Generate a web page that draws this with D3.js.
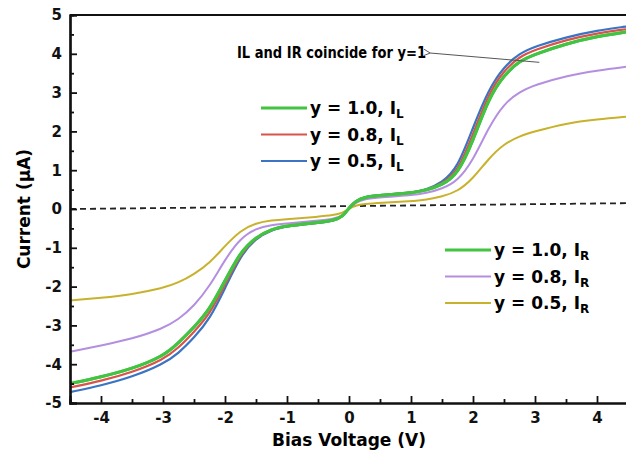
<!DOCTYPE html>
<html>
<head>
<meta charset="utf-8">
<script src="https://cdn.jsdelivr.net/npm/d3@7"></script>
<style>
  body { margin: 0; background: #fff; }
  text { font-family: "DejaVu Sans", sans-serif; font-weight: bold; }
</style>
</head>
<body>
<div id="chart-area"></div>
<script>
// bias voltage grid (V)
var voltage = [-4.5, -4, -3.5, -3, -2.75, -2.5, -2.25, -2, -1.75, -1.5, -1.25, -1, -0.5, -0.25, -0.1, 0,
               0.1, 0.25, 0.5, 1, 1.25, 1.5, 1.75, 2, 2.25, 2.5, 2.75, 3, 3.5, 4, 4.5];

// current (uA)
var y10_IL = [-4.5, -4.33, -4.12, -3.8, -3.45, -3.05, -2.6, -1.85, -1.1, -0.72, -0.52, -0.43, -0.35, -0.3, -0.2, 0.03,
              0.2, 0.31, 0.35, 0.41, 0.48, 0.62, 0.88, 1.75, 2.85, 3.45, 3.82, 3.99, 4.26, 4.45, 4.57];
var y08_IL = [-4.6, -4.43, -4.21, -3.89, -3.58, -3.17, -2.72, -1.95, -1.15, -0.73, -0.53, -0.43, -0.35, -0.3, -0.2, 0.03,
              0.2, 0.31, 0.35, 0.41, 0.49, 0.65, 0.95, 1.92, 2.98, 3.57, 3.93, 4.1, 4.36, 4.53, 4.64];
var y05_IL = [-4.72, -4.55, -4.33, -4.0, -3.72, -3.32, -2.85, -2.05, -1.2, -0.75, -0.54, -0.44, -0.36, -0.31, -0.2, 0.03,
              0.2, 0.32, 0.36, 0.42, 0.5, 0.68, 1.05, 2.1, 3.08, 3.67, 4.01, 4.19, 4.43, 4.6, 4.71];
var y10_IR = y10_IL.slice(); // IL and IR coincide for y=1
var y08_IR = [-3.68, -3.52, -3.35, -3.08, -2.85, -2.5, -2.0, -1.3, -0.75, -0.5, -0.41, -0.37, -0.3, -0.26, -0.17, 0.02,
              0.16, 0.26, 0.3, 0.35, 0.41, 0.52, 0.72, 1.25, 2.1, 2.72, 3.02, 3.2, 3.43, 3.57, 3.67];
var y05_IR = [-2.36, -2.29, -2.2, -2.04, -1.9, -1.68, -1.4, -0.95, -0.55, -0.36, -0.29, -0.26, -0.2, -0.16, -0.1, 0.01,
              0.09, 0.13, 0.16, 0.2, 0.24, 0.32, 0.45, 0.78, 1.3, 1.68, 1.88, 2.0, 2.21, 2.31, 2.38];

// dashed reference line
var dashV = [-4.5, 4.5];
var dashI = [0, 0.15];

var xTicks = [-4, -3, -2, -1, 0, 1, 2, 3, 4];
var yTicks = [-5, -4, -3, -2, -1, 0, 1, 2, 3, 4, 5];

var legendL = ["y = 1.0, I", "y = 0.8, I", "y = 0.5, I"];
var legendR = ["y = 1.0, I", "y = 0.8, I", "y = 0.5, I"];

var series = [
    { name: "y05_IR", values: y05_IR, color: "#c8b22c", w: 2 },
    { name: "y08_IR", values: y08_IR, color: "#b48fe0", w: 2 },
    { name: "y05_IL", values: y05_IL, color: "#3a74c2", w: 2.2 },
    { name: "y08_IL", values: y08_IL, color: "#d9534c", w: 2.2 },
    { name: "y10_IL", values: y10_IL, color: "#42c442", w: 3 },
    { name: "y10_IR", values: y10_IR, color: "#42c442", w: 3 }
];

var W = 626, H = 455;
var margin = { left: 70, right: -2, top: 15, bottom: 52 };

var svg = d3.select("#chart-area")
    .append("svg")
        .attr("width", W)
        .attr("height", H);

var x = d3.scaleLinear().domain([-4.5, 4.5]).range([margin.left, W - margin.right]);
var y = d3.scaleLinear().domain([-5, 5]).range([H - margin.bottom, margin.top]);

var line = d3.line()
    .x(d => x(d[0]))
    .y(d => y(d[1]))
    .curve(d3.curveBasis);

// dashed line
svg.append("path")
    .attr("d", line(dashV.map((v, i) => [v, dashI[i]])))
    .attr("fill", "none")
    .attr("stroke", "#222")
    .attr("stroke-width", 1.8)
    .attr("stroke-dasharray", "6,4");

// curves
svg.selectAll("path.curve")
    .data(series)
    .join("path")
        .attr("class", "curve")
        .attr("fill", "none")
        .attr("stroke", d => d.color)
        .attr("stroke-width", d => d.w)
        .attr("d", d => line(voltage.map((v, i) => [v, d.values[i]])));

// axes
svg.append("g")
    .attr("transform", "translate(0," + y(-5) + ")")
    .call(d3.axisBottom(x).tickValues(xTicks).tickSize(-7).tickPadding(9).tickFormat(d => String(d)));
svg.append("g")
    .attr("transform", "translate(0," + y(-5) + ")")
    .call(d3.axisBottom(x).tickValues(d3.range(-4.5, 4.6, 1)).tickSize(-4).tickFormat(""));

svg.append("g")
    .attr("transform", "translate(" + x(-4.5) + ",0)")
    .call(d3.axisLeft(y).tickValues(yTicks).tickSize(-7).tickPadding(8).tickFormat(d => String(d)));
svg.append("g")
    .attr("transform", "translate(" + x(-4.5) + ",0)")
    .call(d3.axisLeft(y).tickValues(d3.range(-4.5, 4.6, 1)).tickSize(-4).tickFormat(""));

svg.selectAll(".domain").attr("stroke", "#111").attr("stroke-width", 2.2);
svg.selectAll(".tick line").attr("stroke", "#111").attr("stroke-width", 1.8);
svg.selectAll(".tick text").style("font-size", "15px").attr("fill", "#111");

// top frame
svg.append("line")
    .attr("x1", x(-4.5)).attr("x2", W)
    .attr("y1", y(5)).attr("y2", y(5))
    .attr("stroke", "#111").attr("stroke-width", 2.2);

// axis titles
svg.append("text")
    .attr("x", x(0)).attr("y", 446)
    .attr("text-anchor", "middle")
    .style("font-size", "17px")
    .text("Bias Voltage (V)");

svg.append("text")
    .attr("transform", "translate(30," + y(0) + ") rotate(-90)")
    .attr("text-anchor", "middle")
    .style("font-size", "17px")
    .text("Current (\u03bcA)");

// legends
function legend(labels, sub, colors, x0, y0) {
    var g = svg.append("g").attr("transform", "translate(" + x0 + "," + y0 + ")");
    labels.forEach(function(lab, i) {
        var row = g.append("g").attr("transform", "translate(0," + i * 26.5 + ")");
        row.append("line")
            .attr("x1", 0).attr("x2", 46)
            .attr("stroke", colors[i]).attr("stroke-width", i == 0 ? 3 : 2);
        var t = row.append("text")
            .attr("x", 49).attr("y", 6)
            .style("font-size", "17px")
            .text(lab);
        t.append("tspan")
            .attr("dy", 4)
            .style("font-size", "12px")
            .text(sub);
    });
}
legend(legendL, "L", ["#42c442", "#d9534c", "#3a74c2"], 261, 108);
legend(legendR, "R", ["#42c442", "#b48fe0", "#c8b22c"], 445, 250);

// annotation with arrow
svg.append("defs").append("marker")
    .attr("id", "head")
    .attr("viewBox", "0 0 10 10")
    .attr("refX", 1).attr("refY", 5)
    .attr("markerWidth", 8).attr("markerHeight", 8)
    .attr("orient", "auto-start-reverse")
    .append("path")
        .attr("d", "M9,1 L1,5 L9,9")
        .attr("fill", "none")
        .attr("stroke", "#555")
        .attr("stroke-width", 1.2);

svg.append("line")
    .attr("x1", x(1.31)).attr("y1", y(4.02))
    .attr("x2", x(3.07)).attr("y2", y(3.78))
    .attr("stroke", "#555")
    .attr("stroke-width", 1)
    .attr("marker-start", "url(#head)");

svg.append("text")
    .attr("x", 237).attr("y", y(4.02) + 5)
    .attr("textLength", 189)
    .attr("lengthAdjust", "spacingAndGlyphs")
    .style("font-size", "15px")
    .text("IL and IR coincide for y=1");
</script>
</body>
</html>
